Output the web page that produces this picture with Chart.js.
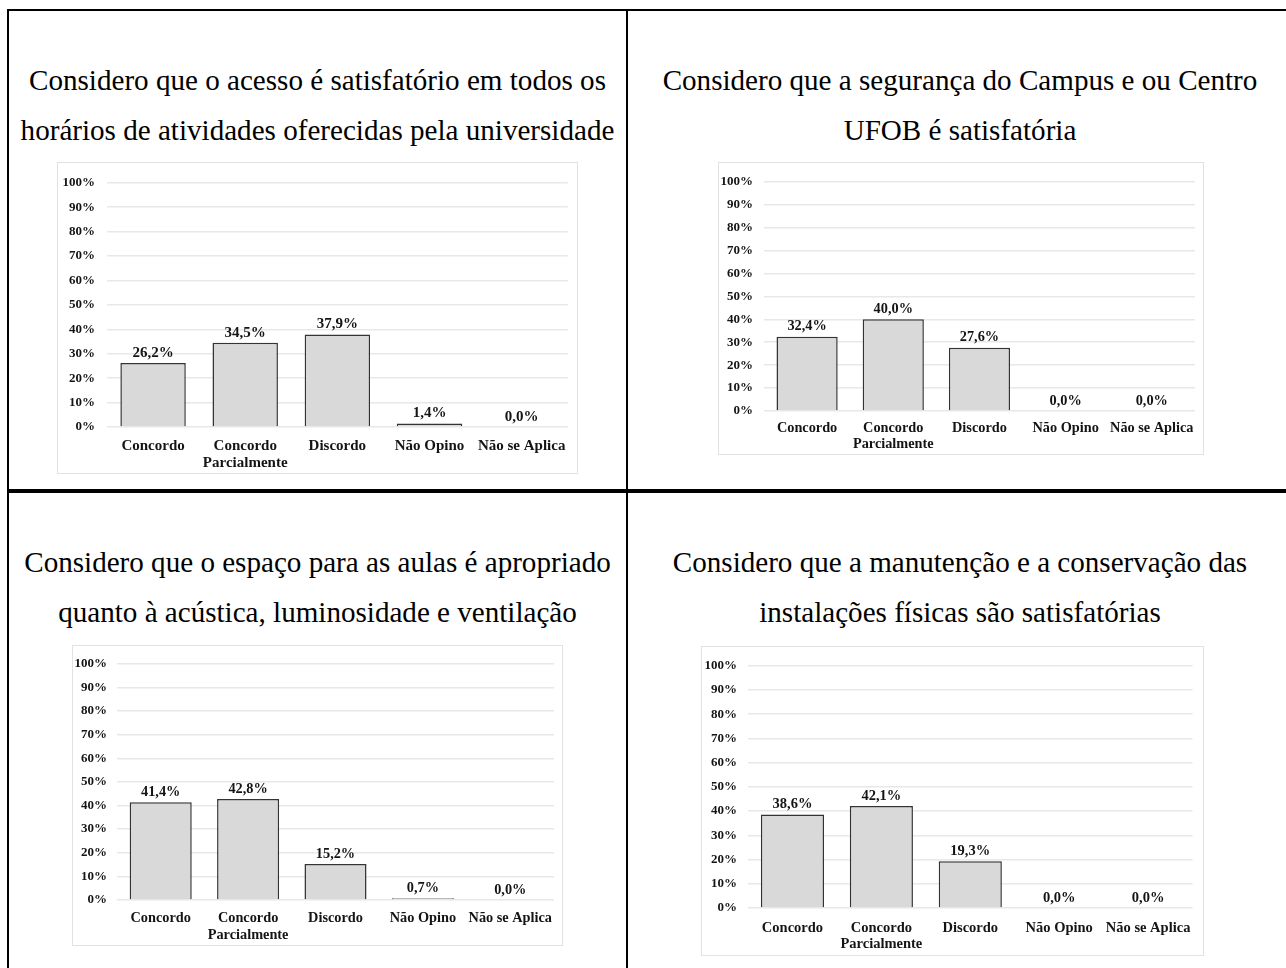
<!DOCTYPE html>
<html>
<head>
<meta charset="utf-8">
<script src="https://cdn.jsdelivr.net/npm/chart.js@4.4.1/dist/chart.umd.min.js"></script>
<style>
body{margin:0;width:1286px;height:968px;overflow:hidden;background:#fff;position:relative;}
.line{position:absolute;background:#000;}
.title{position:absolute;text-align:center;font-family:'Liberation Serif','Times New Roman',serif;font-size:29.1px;line-height:50px;color:#000;}
.box{position:absolute;border:1px solid #e2e2e2;box-sizing:border-box;}
.box canvas{position:absolute;left:0;top:0;}
</style>
</head>
<body>
<div class="line" style="left:7px;top:9px;width:1279px;height:2px"></div>
<div class="line" style="left:7px;top:9px;width:2px;height:959px"></div>
<div class="line" style="left:626px;top:9px;width:2px;height:959px"></div>
<div class="line" style="left:7px;top:489px;width:1279px;height:4px"></div>

<div class="title" style="left:9px;top:55px;width:617px">Considero que o acesso é satisfatório em todos os<br>horários de atividades oferecidas pela universidade</div>
<div class="title" style="left:629px;top:55px;width:662px">Considero que a segurança do Campus e ou Centro<br>UFOB é satisfatória</div>
<div class="title" style="left:9px;top:537px;width:617px">Considero que o espaço para as aulas é apropriado<br>quanto à acústica, luminosidade e ventilação</div>
<div class="title" style="left:629px;top:537px;width:662px">Considero que a manutenção e a conservação das<br>instalações físicas são satisfatórias</div>

<div class="box" style="left:57px;top:162px;width:521px;height:312px"><canvas id="c1"></canvas></div>
<div class="box" style="left:718px;top:162px;width:486px;height:293px"><canvas id="c2"></canvas></div>
<div class="box" style="left:72px;top:645px;width:491px;height:301px"><canvas id="c3"></canvas></div>
<div class="box" style="left:701px;top:646px;width:503px;height:310px"><canvas id="c4"></canvas></div>

<script>
// categorias e valores (%)
const categorias=['Concordo',['Concordo','Parcialmente'],'Discordo','Não Opino','Não se Aplica'];
const acesso=[26.2,34.5,37.9,1.4,0.0];
const seguranca=[32.4,40.0,27.6,0.0,0.0];
const espacoAulas=[41.4,42.8,15.2,0.7,0.0];
const manutencao=[38.6,42.1,19.3,0.0,0.0];
const yTicks=[0,10,20,30,40,50,60,70,80,90,100];

// layout de cada grafico (pixels da pagina)
const layouts=[
 {id:'c1',box:[57,162,521,312],plot:[107,571,172,427],tickPad:12,labelPad:11,fs:15,lh:17,values:acesso},
 {id:'c2',box:[718,162,486,293],plot:[764,1198,172,411],tickPad:11,labelPad:9,fs:14.3,lh:16,values:seguranca},
 {id:'c3',box:[72,645,491,301],plot:[117,557,655,900],tickPad:10,labelPad:9.5,fs:14.3,lh:17,values:espacoAulas},
 {id:'c4',box:[701,646,503,310],plot:[748,1197,655,908],tickPad:11,labelPad:12,fs:14.5,lh:16,values:manutencao}
];

const fam="'Liberation Serif','Times New Roman',serif";

const rotulos={
 id:'rotulos',
 afterDatasetsDraw(chart,args,opts){
  const ctx=chart.ctx;
  const meta=chart.getDatasetMeta(0);
  ctx.save();
  ctx.font='bold '+opts.size+'px '+fam;
  ctx.fillStyle='#141414';
  ctx.textAlign='center';
  ctx.textBaseline='middle';
  meta.data.forEach((bar,i)=>{
   let v=chart.data.datasets[0].data[i];
   ctx.fillText(v.toFixed(1).replace('.',',')+'%',bar.x,bar.y-10);
  });
  ctx.restore();
 }
};

layouts.forEach(L=>{
 let cv=document.getElementById(L.id);
 let w=L.box[2]-2,h=L.box[3]-2;
 cv.width=w;cv.height=h;
 let ox=L.box[0]+1,oy=L.box[1]+1;
 new Chart(cv.getContext('2d'),{
  type:'bar',
  data:{labels:categorias,datasets:[{data:L.values,backgroundColor:'#d9d9d9',borderColor:'#333',borderWidth:1.5,barPercentage:0.71,categoryPercentage:1}]},
  options:{
   responsive:false,animation:false,
   layout:{padding:{top:L.plot[2]-oy,right:(ox+w)-L.plot[1],left:0,bottom:0}},
   plugins:{legend:{display:false},tooltip:{enabled:false},rotulos:{size:L.fs}},
   scales:{
    x:{
     grid:{display:false,drawTicks:false},border:{display:false},
     ticks:{color:'#141414',padding:L.labelPad,maxRotation:0,autoSkip:false,font:{family:fam,size:L.fs,weight:'bold',lineHeight:L.lh/L.fs}},
     afterFit:s=>{s.height=(oy+h)-L.plot[3];}
    },
    y:{
     min:0,max:100,
     afterBuildTicks:s=>{s.ticks=yTicks.map(v=>({value:v}));},
     grid:{color:'#e8e8e8',lineWidth:1.5,drawTicks:false},border:{display:false},
     ticks:{color:'#141414',padding:L.tickPad,callback:v=>v+'%',font:{family:fam,size:13,weight:'bold'}},
     afterFit:s=>{s.width=L.plot[0]-ox;}
    }
   }
  },
  plugins:[rotulos]
 });
});
</script>
</body>
</html>
